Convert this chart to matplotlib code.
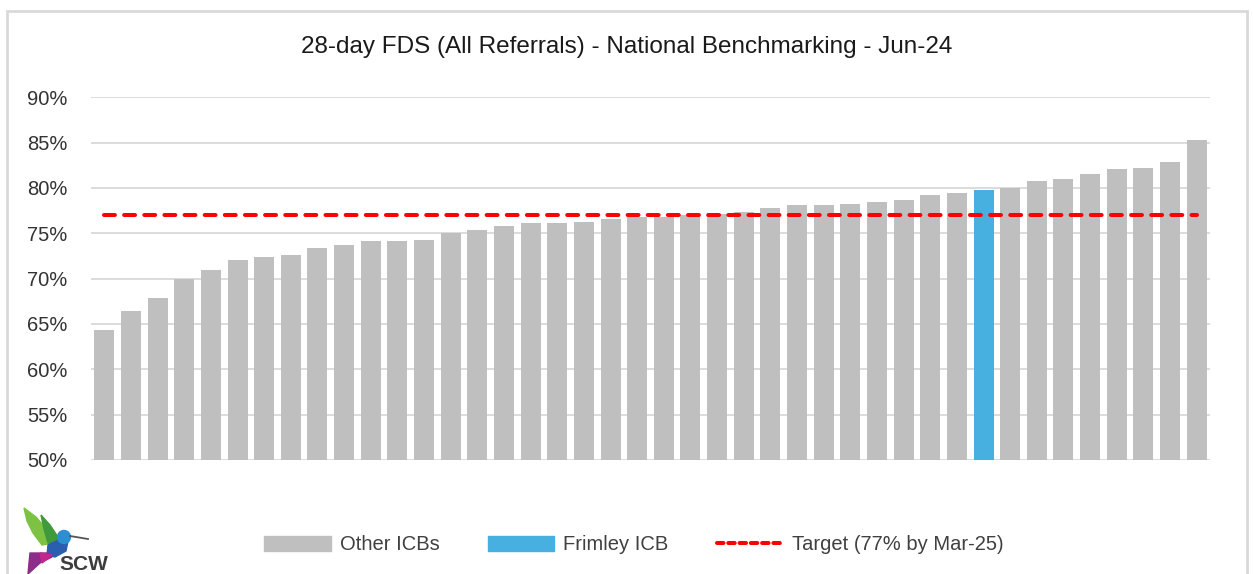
import numpy as np
import matplotlib
matplotlib.use("Agg")
import matplotlib.pyplot as plt
from matplotlib.patches import Polygon, Circle, Rectangle, Patch
from matplotlib.lines import Line2D

plt.rcParams['font.family'] = ['Liberation Sans', 'DejaVu Sans']

# FDS performance by ICB, sorted ascending (Jun-24)
fds = [64.3, 66.4, 67.9, 70.0, 71.0, 72.1, 72.4, 72.6, 73.4, 73.7,
       74.1, 74.1, 74.3, 75.0, 75.4, 75.8, 76.1, 76.1, 76.25, 76.55,
       76.8, 76.85, 77.0, 77.1, 77.4, 77.8, 78.1, 78.1, 78.25, 78.5,
       78.7, 79.2, 79.4, 79.8, 80.0, 80.8, 80.95, 81.5, 82.05, 82.2,
       82.9, 85.3]
frimley_idx = 33
target = 77
yticks = [50, 55, 60, 65, 70, 75, 80, 85, 90]

grey = '#BFBFBF'
blue = '#47B0E0'
red = '#FF0000'

fig = plt.figure(figsize=(12.53, 5.74), dpi=100)
fig.patches.append(Rectangle((7/1253, -0.1), (1247-7)/1253, 1.1 - 11/574,
                             transform=fig.transFigure, fill=False,
                             edgecolor='#D9D9D9', lw=2))

ax = fig.add_axes([91/1253, 1-460/574, (1210-91)/1253, (460-97.3)/574])
x = np.arange(len(fds))
colors = [blue if i == frimley_idx else grey for i in x]
ax.bar(x, np.array(fds) - 50, bottom=50, width=0.75, color=colors, zorder=2)
ax.plot(x, [target] * len(x), color=red, lw=2.9, dashes=(2.7, 2.3),
        dash_capstyle='round', zorder=3)

ax.set_xlim(-0.5, len(fds) - 0.5)
ax.set_ylim(50, 90)
ax.set_yticks(yticks)
ax.set_yticklabels([f'{v}%' for v in yticks], fontsize=14.5, color='#333333')
ax.set_xticks([])
ax.tick_params(axis='y', length=0, pad=17)
ax.grid(axis='y', color='#D9D9D9', lw=1.3, zorder=0)
for s in ax.spines.values():
    s.set_visible(False)

fig.text(627/1253, 1-47/574, '28-day FDS (All Referrals) - National Benchmarking - Jun-24',
         ha='center', va='center', fontsize=17.5, color='#1a1a1a')

handles = [Patch(color=grey), Patch(color=blue),
           Line2D([0], [0], color=red, lw=2.9, dashes=(1.6, 1.2), dash_capstyle='round')]
labels = ['Other ICBs', 'Frimley ICB', 'Target (77% by Mar-25)']
fig.legend(handles, labels, loc='center', bbox_to_anchor=(634/1253, 1-545/574),
           ncol=3, frameon=False, fontsize=14.5, handlelength=3.3, handleheight=0.7,
           handletextpad=0.45, columnspacing=2.4, labelcolor='#404040')

# SCW logo
lg = fig.add_axes([0, 0, 140/1253, 79/574])
lg.set_xlim(0, 140)
lg.set_ylim(79, 0)
lg.axis('off')
lg.add_patch(Polygon([(24, 13), (36, 22), (48, 36), (54, 48), (42, 50), (33, 38), (27, 26)],
                     color='#7DC242'))
lg.add_patch(Polygon([(41, 20), (50, 30), (58, 42), (56, 50), (48, 48), (44, 34)],
                     color='#3E9A3A'))
lg.add_patch(Polygon([(48, 50), (60, 44), (68, 46), (66, 56), (55, 62), (47, 60)],
                     color='#2A5FB0'))
lg.add_patch(Circle((64, 42), 6.5, color='#2C8FD0'))
lg.plot([70, 88], [41, 44], color='#555555', lw=1.3)
lg.add_patch(Polygon([(30, 58), (48, 58), (52, 62), (40, 68), (28, 79), (29, 68)],
                     color='#8E2C8A'))
lg.add_patch(Polygon([(40, 58), (52, 60), (42, 68)], color='#C2278E'))
lg.text(59, 69, 'SCW', fontsize=15, fontweight='bold', color='#3D3D3D', va='center')

fig.savefig('out.png', dpi=100)
